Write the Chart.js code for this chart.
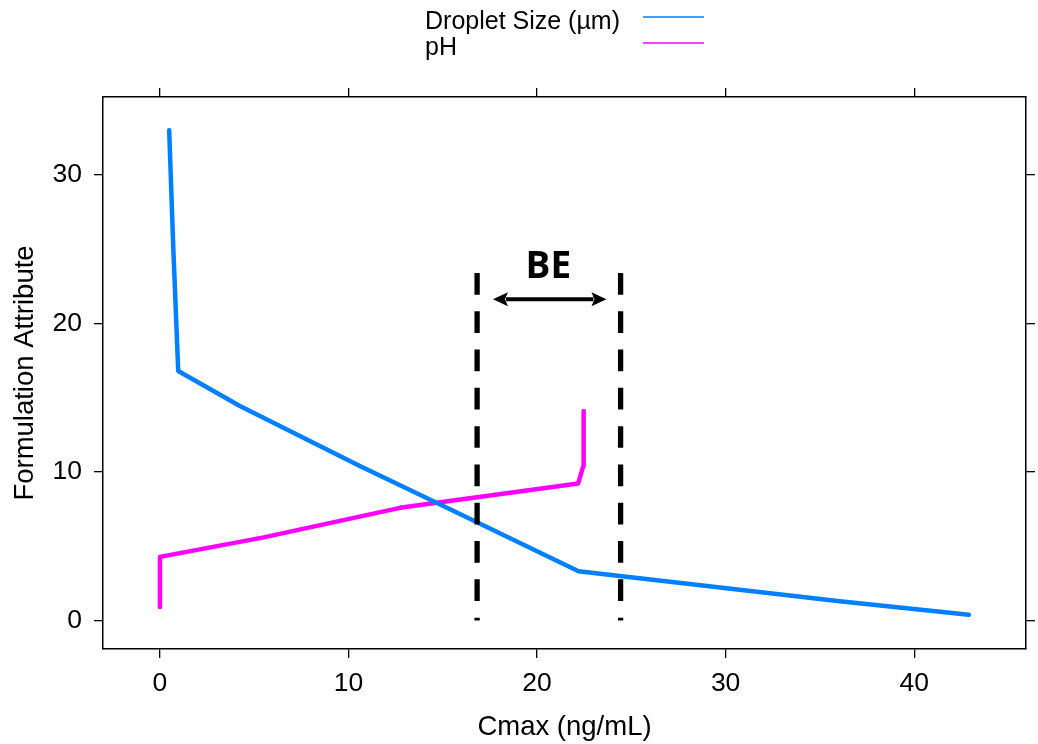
<!DOCTYPE html>
<html><head><meta charset="utf-8">
<script src="https://cdn.jsdelivr.net/npm/chart.js@4.4.1/dist/chart.umd.min.js"></script>
<style>html,body{margin:0;padding:0;background:#fff}#wrap{width:1038px;height:744px}</style>
</head><body><div id="wrap"><canvas id="c" width="1038" height="744"></canvas></div>
<script>
// ---- data ----
const dropletX = [0.49, 0.71, 0.97, 4.24, 10.6, 14.67, 22.2, 36.05, 42.9];
const dropletY = [33.0, 25.0, 16.8, 14.44, 10.4, 7.93, 3.32, 1.3, 0.4];
const phX = [0, 0, 5.5, 12.73, 14.67, 22.18, 22.45, 22.47];
const phY = [0.92, 4.29, 5.6, 7.59, 7.93, 9.23, 10.4, 14.1];
const beLimitsX = [16.82, 24.43];
const beLimitsY = [23.4, 0];
const beArrowX = [17.66, 23.68];
const beArrowY = [21.63, 21.63];
const beLabel = ['BE'];
const beLabelPos = [20.6, 23.75];
const xTickValues = [0, 10, 20, 30, 40];
const yTickValues = [0, 10, 20, 30];
const seriesLabels = ['Droplet Size (µm)', 'pH'];
const xRange = [-3.02, 45.93];
const yRange = [-1.91, 35.24];

const pts = (xs, ys) => xs.map((x, i) => ({x: x, y: ys[i]}));
const FONT = '"Liberation Sans", Arial, sans-serif';

const legendPlugin = {
  id: 'keyLegend',
  afterDraw(chart) {
    const ctx = chart.ctx;
    ctx.save();
    ctx.font = '25px ' + FONT;
    ctx.textAlign = 'left';
    ctx.textBaseline = 'alphabetic';
    [0, 1].forEach((idx, i) => {
      const ds = chart.data.datasets[idx];
      const base = 28.5 + i * 26;
      ctx.fillStyle = '#000';
      ctx.fillText(ds.label, 425, base);
      ctx.strokeStyle = ds.borderColor;
      ctx.lineWidth = 1.5;
      ctx.beginPath();
      ctx.moveTo(643, base - 11.5);
      ctx.lineTo(704, base - 11.5);
      ctx.stroke();
    });
    ctx.restore();
  }
};

const bePlugin = {
  id: 'beMarks',
  afterDatasetsDraw(chart) {
    const ctx = chart.ctx;
    const xs = chart.scales.x, ys = chart.scales.y;
    const meta = chart.getDatasetMeta(4);
    const p0 = meta.data[0], p1 = meta.data[1];
    const hl = 15, hw = 7;
    ctx.save();
    ctx.strokeStyle = '#000';
    ctx.fillStyle = '#000';
    ctx.lineWidth = 4;
    ctx.beginPath();
    ctx.moveTo(p0.x + hl - 2, p0.y);
    ctx.lineTo(p1.x - hl + 2, p1.y);
    ctx.stroke();
    ctx.beginPath();
    ctx.moveTo(p0.x, p0.y);
    ctx.lineTo(p0.x + hl, p0.y - hw);
    ctx.lineTo(p0.x + hl - 3, p0.y);
    ctx.lineTo(p0.x + hl, p0.y + hw);
    ctx.closePath();
    ctx.fill();
    ctx.beginPath();
    ctx.moveTo(p1.x, p1.y);
    ctx.lineTo(p1.x - hl, p1.y - hw);
    ctx.lineTo(p1.x - hl + 3, p1.y);
    ctx.lineTo(p1.x - hl, p1.y + hw);
    ctx.closePath();
    ctx.fill();
    ctx.font = 'bold 37px "Open Sans", "Liberation Sans", sans-serif';
    ctx.textAlign = 'center';
    ctx.textBaseline = 'middle';
    ctx.fillText(beLabel[0], xs.getPixelForValue(beLabelPos[0]), ys.getPixelForValue(beLabelPos[1]));
    ctx.restore();
  }
};

const gridCfg = {display: true, drawOnChartArea: false, drawTicks: true, tickLength: 9, color: '#000', lineWidth: 1.3};
const borderCfg = {display: true, color: '#000', width: 1.5};
const tickFont = {family: FONT, size: 26.5};
const titleFont = {family: FONT, size: 27.5};

new Chart(document.getElementById('c'), {
  type: 'line',
  data: {
    datasets: [
      {label: seriesLabels[0], data: pts(dropletX, dropletY), borderColor: '#0080ff', borderWidth: 4.5,
       pointRadius: 0, borderCapStyle: 'round', borderJoinStyle: 'round', order: 2, xAxisID: 'x', yAxisID: 'y'},
      {label: seriesLabels[1], data: pts(phX, phY), borderColor: '#ff00ff', borderWidth: 4.5,
       pointRadius: 0, borderCapStyle: 'round', borderJoinStyle: 'round', order: 2, xAxisID: 'x', yAxisID: 'y'},
      {label: 'BE lower', data: pts([beLimitsX[0], beLimitsX[0]], beLimitsY), borderColor: '#000', borderWidth: 5.3,
       borderDash: [21.7, 16.6], pointRadius: 0, borderCapStyle: 'butt', order: 1, xAxisID: 'x', yAxisID: 'y'},
      {label: 'BE upper', data: pts([beLimitsX[1], beLimitsX[1]], beLimitsY), borderColor: '#000', borderWidth: 5.3,
       borderDash: [21.7, 16.6], pointRadius: 0, borderCapStyle: 'butt', order: 1, xAxisID: 'x', yAxisID: 'y'},
      {label: 'BE range', data: pts(beArrowX, beArrowY), borderColor: 'rgba(0,0,0,0)', borderWidth: 0,
       pointRadius: 0, order: 1, xAxisID: 'x', yAxisID: 'y'}
    ]
  },
  options: {
    responsive: false,
    animation: false,
    events: [],
    layout: {padding: 0},
    plugins: {legend: {display: false}, tooltip: {enabled: false}, title: {display: false}},
    scales: {
      x: {
        type: 'linear', position: 'bottom', min: xRange[0], max: xRange[1],
        afterBuildTicks: s => { s.ticks = xTickValues.map(v => ({value: v})); },
        afterFit: s => { s.height = 95; },
        grid: gridCfg, border: borderCfg,
        ticks: {color: '#000', font: tickFont, padding: 10, maxRotation: 0, autoSkip: false},
        title: {display: true, text: 'Cmax (ng/mL)', color: '#000', font: titleFont, padding: {top: 0, bottom: 0}}
      },
      x2: {
        type: 'linear', position: 'top', min: xRange[0], max: xRange[1],
        afterBuildTicks: s => { s.ticks = xTickValues.map(v => ({value: v})); },
        afterFit: s => { s.height = 97; },
        grid: gridCfg, border: borderCfg,
        ticks: {display: false}
      },
      y: {
        type: 'linear', position: 'left', min: yRange[0], max: yRange[1],
        afterBuildTicks: s => { s.ticks = yTickValues.map(v => ({value: v})); },
        afterFit: s => { s.width = 103; },
        grid: gridCfg, border: borderCfg,
        ticks: {color: '#000', font: tickFont, padding: 12, autoSkip: false},
        title: {display: true, text: 'Formulation Attribute', color: '#000', font: titleFont, padding: {top: 9, bottom: 0}}
      },
      y2: {
        type: 'linear', position: 'right', min: yRange[0], max: yRange[1],
        afterBuildTicks: s => { s.ticks = yTickValues.map(v => ({value: v})); },
        afterFit: s => { s.width = 12; },
        grid: gridCfg, border: borderCfg,
        ticks: {display: false}
      }
    }
  },
  plugins: [legendPlugin, bePlugin]
});
</script>
</body></html>
